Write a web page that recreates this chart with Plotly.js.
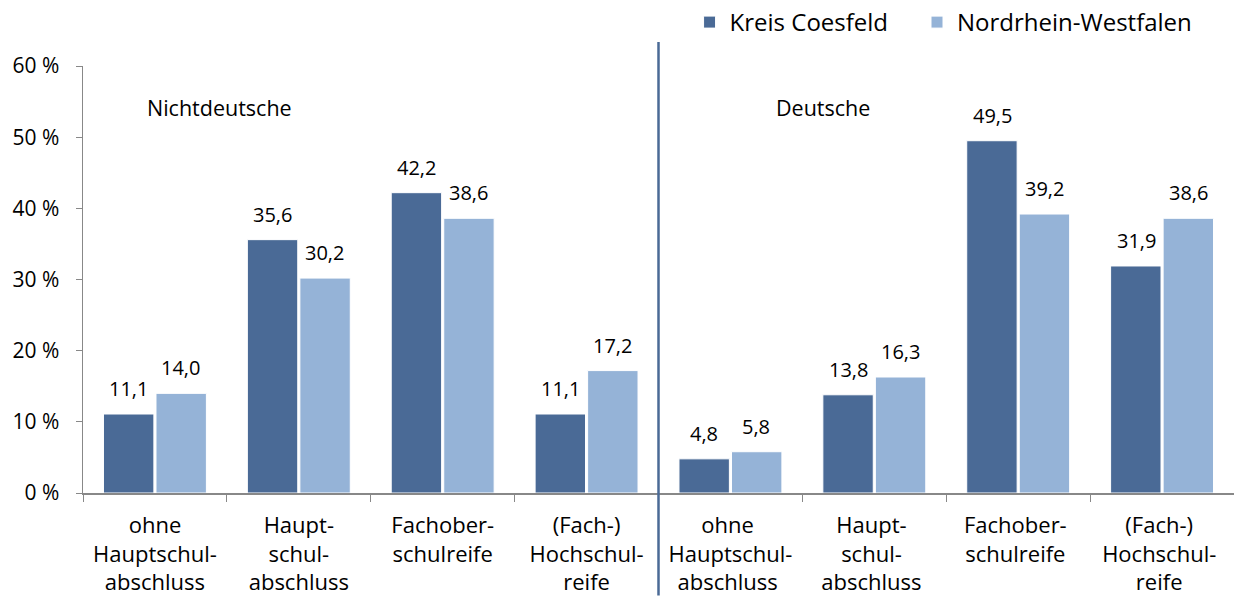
<!DOCTYPE html>
<html>
<head>
<meta charset="utf-8">
<script src="https://cdn.plot.ly/plotly-3.0.1.min.js"></script>
<style>
  html, body { margin: 0; padding: 0; background: #fff; }
  #chart { width: 1234px; height: 599px; }
</style>
</head>
<body>
<div id="chart"></div>
<script>
// categories: first four = Nichtdeutsche, last four = Deutsche
const categories = [
    'ohne<br>Hauptschul-<br>abschluss', 'Haupt-<br>schul-<br>abschluss', 'Fachober-<br>schulreife', '(Fach-)<br>Hochschul-<br>reife',
    'ohne <br>Hauptschul-<br>abschluss ', 'Haupt- <br>schul- <br>abschluss ', 'Fachober- <br>schulreife ', '(Fach-) <br>Hochschul- <br>reife '
];
const seriesNames = ['Kreis Coesfeld', 'Nordrhein-Westfalen'];
const kreisValues = [11.1, 35.6, 42.2, 11.1, 4.8, 13.8, 49.5, 31.9];
const nrwValues = [14.0, 30.2, 38.6, 17.2, 5.8, 16.3, 39.2, 38.6];
const groupLabels = ['Nichtdeutsche', 'Deutsche'];
const yTicks = [0, 10, 20, 30, 40, 50, 60];

const darkBlue = '#4a6a96';
const lightBlue = '#95b3d7';
const font = 'Open Sans, sans-serif';

function createEducationPlot() {
    const traces = [
        {
            name: seriesNames[0],
            type: 'bar',
            x: categories,
            y: kreisValues,
            legend: 'legend',
            marker: { color: darkBlue, line: { color: '#ffffff', width: 1 } },
            hoverinfo: 'none'
        },
        {
            name: seriesNames[1],
            type: 'bar',
            x: categories,
            y: nrwValues,
            legend: 'legend2',
            marker: { color: lightBlue, line: { color: '#ffffff', width: 1 } },
            hoverinfo: 'none'
        }
    ];

    // value labels above bars
    const annotations = [];
    [kreisValues, nrwValues].forEach((vals, s) => {
        vals.forEach((v, i) => {
            annotations.push({
                x: categories[i],
                y: v,
                xref: 'x',
                yref: 'y',
                text: v.toFixed(1).replace('.', ','),
                showarrow: false,
                xshift: s === 0 ? -26 : 26,
                yshift: 10,
                yanchor: 'bottom',
                font: { family: font, size: 20, color: '#000' }
            });
        });
    });

    // group titles
    annotations.push({
        x: 0.45, y: 54.2, xref: 'x', yref: 'y',
        text: groupLabels[0], showarrow: false,
        font: { family: font, size: 21.5, color: '#000' }
    });
    annotations.push({
        x: 4.64, y: 54.2, xref: 'x', yref: 'y',
        text: groupLabels[1], showarrow: false,
        font: { family: font, size: 21.5, color: '#000' }
    });

    const legendBase = {
        orientation: 'h',
        xanchor: 'left',
        y: 1.155,
        yanchor: 'top',
        font: { family: font, size: 24, color: '#000' },
        itemwidth: 30,
        bgcolor: 'rgba(0,0,0,0)'
    };

    const layout = {
        width: 1234,
        height: 599,
        margin: { l: 83, r: 0, t: 66, b: 106 },
        paper_bgcolor: '#ffffff',
        plot_bgcolor: '#ffffff',
        barmode: 'group',
        bargap: 0.27,
        bargroupgap: 0.04,
        separators: ',.',
        font: { family: font, color: '#000' },
        xaxis: {
            type: 'category',
            showline: true,
            linecolor: '#888888',
            linewidth: 1.5,
            ticks: 'outside',
            tickson: 'boundaries',
            ticklen: 7,
            tickcolor: '#888888',
            ticklabelstandoff: 12,
            tickfont: { family: font, size: 22, color: '#000' },
            tickangle: 0,
            showgrid: false,
            zeroline: false,
            fixedrange: true
        },
        yaxis: {
            range: [0, 60],
            tickvals: yTicks,
            ticktext: yTicks.map(t => t + ' %'),
            showline: true,
            linecolor: '#888888',
            linewidth: 1.5,
            ticks: 'outside',
            ticklen: 6,
            tickcolor: '#888888',
            ticklabelstandoff: 12,
            tickfont: { family: font, size: 21, color: '#000' },
            showgrid: false,
            zeroline: false,
            fixedrange: true
        },
        showlegend: true,
        legend: Object.assign({}, legendBase, { x: 0.527 }),
        legend2: Object.assign({}, legendBase, { x: 0.7246 }),
        shapes: [{
            type: 'line',
            xref: 'x',
            yref: 'paper',
            x0: 3.5, x1: 3.5,
            y0: -0.24, y1: 1.056,
            line: { color: darkBlue, width: 2.5 }
        }],
        annotations: annotations
    };

    Plotly.newPlot('chart', traces, layout, { displayModeBar: false, staticPlot: true });
}

createEducationPlot();
</script>
</body>
</html>
